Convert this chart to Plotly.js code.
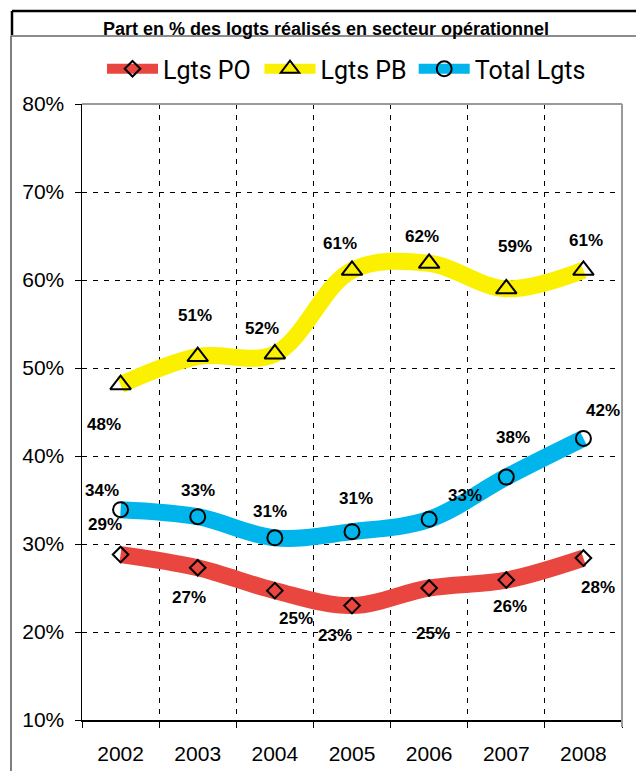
<!DOCTYPE html>
<html>
<head>
<meta charset="utf-8">
<script src="https://cdn.plot.ly/plotly-3.0.1.min.js"></script>
<style>
  html, body { margin: 0; padding: 0; background: #ffffff; }
  #chart { width: 636px; height: 771px; }
</style>
</head>
<body>
<div id="chart"></div>
<script>
// ---- data ----
const years = [2002, 2003, 2004, 2005, 2006, 2007, 2008];
const lgtsPO = [28.8, 27.3, 24.7, 23.0, 25.0, 25.9, 28.4];
const lgtsPB = [48.1, 51.3, 51.6, 61.1, 61.9, 59.0, 61.1];
const totalLgts = [33.9, 33.1, 30.7, 31.4, 32.8, 37.6, 42.0];
const seriesNames = ["Lgts PO", "Lgts PB", "Total Lgts"];
const yTickValues = [10, 20, 30, 40, 50, 60, 70, 80];
const chartTitle = "Part en % des logts réalisés en secteur opérationnel";

// ---- styles (label offsets in px: [dx, dy up]) ----
const poShift = [[-16, 30], [-9, -30], [21, -28], [-17, -30], [4, -45], [4, -26], [15, -29]];
const pbShift = [[-17, -40], [-3, 41], [-13, 25], [-12, 27], [-7, 27], [9, 42], [3, 30]];
const totShift = [[-19, 19], [0, 26], [-5, 26], [4, 33], [36, 24], [7, 40], [20, 28]];

const W = 636, H = 771, mL = 82, mR = 14, mT = 104, mB = 51;
const pw = W - mL - mR, ph = H - mT - mB;
const px = v => (v - mL) / pw;
const py = v => (H - mB - v) / ph;

const colors = ["#E8463F", "#FBF000", "#00B5EC"];
const symbols = ["diamond-open", "triangle-up-open", "circle-open"];
const sizes = [12, 18, 15];
const series = [lgtsPO, lgtsPB, totalLgts];
const shifts = [poShift, pbShift, totShift];
const legendIds = ["legend", "legend2", "legend3"];
const legendLeft = [102, 259.5, 413.7];

const traces = series.map((vals, k) => ({
  type: "scatter",
  mode: "lines+markers",
  name: seriesNames[k],
  legend: legendIds[k],
  x: years,
  y: vals,
  line: { color: colors[k], width: 17, shape: "spline", smoothing: 1 },
  marker: { symbol: symbols[k], size: sizes[k], color: "#000000", line: { width: 2, color: "#000000" } },
  hoverinfo: "skip"
}));

const annotations = [];
series.forEach((vals, k) => {
  vals.forEach((v, i) => {
    annotations.push({
      x: years[i], y: v, xref: "x", yref: "y",
      text: Math.round(v) + "%",
      showarrow: false,
      xshift: shifts[k][i][0], yshift: shifts[k][i][1],
      font: { family: "Liberation Sans, Arial, sans-serif", size: 17, color: "#000", weight: "bold" }
    });
  });
});

const boundaries = [years[0] - 0.5].concat(years.map(y => y + 0.5));

const shapes = [
  { type: "line", xref: "paper", yref: "paper", x0: px(12), x1: px(640), y0: py(11), y1: py(11), line: { color: "#000", width: 2.5 } },
  { type: "line", xref: "paper", yref: "paper", x0: px(12), x1: px(12), y0: py(11), y1: py(36), line: { color: "#000", width: 2.5 } },
  { type: "line", xref: "paper", yref: "paper", x0: px(11), x1: px(640), y0: py(36), y1: py(36), line: { color: "#8c8c8c", width: 2 } },
  { type: "line", xref: "paper", yref: "paper", x0: px(11), x1: px(11), y0: py(36), y1: py(775), line: { color: "#555", width: 1.5 } },
  { type: "line", xref: "paper", yref: "paper", x0: 0, x1: 1, y0: 1, y1: 1, line: { color: "#9a9a9a", width: 2 } },
  { type: "line", xref: "paper", yref: "paper", x0: 1, x1: 1, y0: 1, y1: py(727), line: { color: "#9a9a9a", width: 2 } }
];

const legendBase = {
  orientation: "h",
  xanchor: "left",
  y: py(69), yanchor: "middle",
  font: { family: "Roboto, sans-serif", size: 25, color: "#000" },
  itemwidth: 51,
  bgcolor: "rgba(0,0,0,0)",
  borderwidth: 0
};

const layout = {
  width: W, height: H,
  margin: { l: mL, r: mR, t: mT, b: mB, pad: 0 },
  paper_bgcolor: "#ffffff", plot_bgcolor: "#ffffff",
  font: { family: "Liberation Sans, Arial, sans-serif", color: "#000" },
  title: {
    text: chartTitle,
    font: { family: "Liberation Sans, Arial, sans-serif", size: 18, color: "#000", weight: "bold" },
    x: 326 / W, xref: "container", xanchor: "center",
    y: 1 - 29 / H, yref: "container", yanchor: "middle"
  },
  showlegend: true,
  legend: Object.assign({}, legendBase, { x: px(legendLeft[0]) }),
  legend2: Object.assign({}, legendBase, { x: px(legendLeft[1]) }),
  legend3: Object.assign({}, legendBase, { x: px(legendLeft[2]) }),
  xaxis: {
    type: "linear",
    range: [years[0] - 0.5, years[years.length - 1] + 0.5],
    tickmode: "array", tickvals: years, ticktext: years.map(String),
    ticks: "", showgrid: false, zeroline: false,
    showline: true, linecolor: "#000", linewidth: 1.5,
    tickfont: { family: "Liberation Sans, Arial, sans-serif", size: 21, color: "#000" },
    ticklabelstandoff: 14,
    minor: {
      tickmode: "array", tickvals: boundaries,
      ticks: "outside", ticklen: 6, tickcolor: "#000", tickwidth: 1,
      showgrid: true, gridcolor: "#000", gridwidth: 1, griddash: "5px,6px"
    },
    fixedrange: true
  },
  yaxis: {
    range: [10, 80],
    tickmode: "array", tickvals: yTickValues, ticktext: yTickValues.map(v => v + "%"),
    ticks: "outside", ticklen: 6, tickcolor: "#000", tickwidth: 1,
    showgrid: true, gridcolor: "#000", gridwidth: 1, griddash: "5px,6px",
    zeroline: false,
    showline: true, linecolor: "#000", linewidth: 1.5,
    tickfont: { family: "Liberation Sans, Arial, sans-serif", size: 21, color: "#000" },
    ticklabelstandoff: 6,
    fixedrange: true
  },
  annotations: annotations,
  shapes: shapes
};

Plotly.newPlot("chart", traces, layout, { staticPlot: true, displayModeBar: false });
</script>
</body>
</html>
